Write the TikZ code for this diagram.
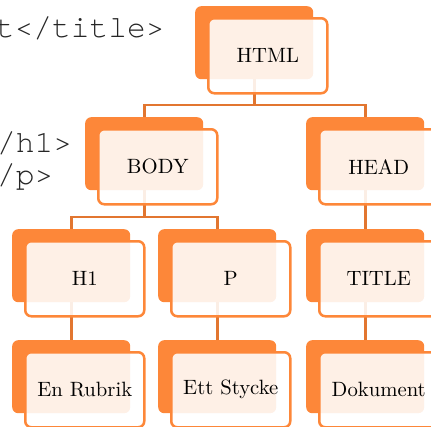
\documentclass[tikz,border=0pt]{standalone}
\usepackage{fontspec}
\setmainfont{lmroman10-regular}[Extension=.otf]
\newfontfamily\codefont{texgyrecursor-regular}[Extension=.otf]
\usetikzlibrary{backgrounds}
\definecolor{boxorange}{RGB}{253,135,57}
\definecolor{connorange}{RGB}{226,118,48}
\begin{document}
\begin{tikzpicture}[x=1pt,y=-1pt,
  back/.style={fill=boxorange, rounded corners=6pt, minimum width=118pt,
    minimum height=73pt, inner sep=0pt, anchor=north west},
  front/.style={fill=white, fill opacity=0.88, text opacity=1, draw=boxorange,
    line width=2.5pt, rounded corners=6pt, minimum width=119pt,
    minimum height=75pt, inner sep=0pt, anchor=north west,
    font=\fontsize{20.7}{24}\selectfont},
  conn/.style={draw=connorange, line width=2.6pt},
  code/.style={font=\codefont\fontsize{31.25}{36}\selectfont, inner sep=0pt,
    anchor=base west, text=black!85}]
\useasboundingbox (0,0) rectangle (431,426);
\newcommand{\treebox}[4]{%
  \node[back] (#1-b) at (#2,#3) {};
  \node[front] (#1) at (#2+12,#3+11) {#4};}
% code fragments
\node[code] (c1) at (-4.4,37) {t</title>};
\node[code] (c2) at (-3,152) {/h1>};
\node[code] (c3) at (-3,184) {/p>};
% boxes
\treebox{html}{195}{6}{HTML}
\treebox{body}{85}{117}{BODY}
\treebox{head}{306}{117}{HEAD}
\treebox{h1}{12}{229}{H1}
\treebox{p}{158}{229}{P}
\treebox{title}{306}{229}{TITLE}
\treebox{rubrik}{12}{340}{En Rubrik}
\treebox{stycke}{158}{340}{Ett Stycke}
\treebox{dok}{306}{340}{Dokument}
% connectors
\begin{pgfonlayer}{background}
\coordinate (busA) at (0,105);
\coordinate (busB) at (0,217);
\draw[conn] (html-b.center) -- (html-b.center |- busA) -| (body-b.north);
\draw[conn] (html-b.center |- busA) -| (head-b.north);
\draw[conn] (body-b.center) -- (body-b.center |- busB) -| (h1-b.north);
\draw[conn] (body-b.center |- busB) -| (p-b.north);
\draw[conn] (head-b.center) -- (title-b.north);
\draw[conn] (h1-b.center) -- (rubrik-b.north);
\draw[conn] (p-b.center) -- (stycke-b.north);
\draw[conn] (title-b.center) -- (dok-b.north);
\end{pgfonlayer}
\end{tikzpicture}
\end{document}
